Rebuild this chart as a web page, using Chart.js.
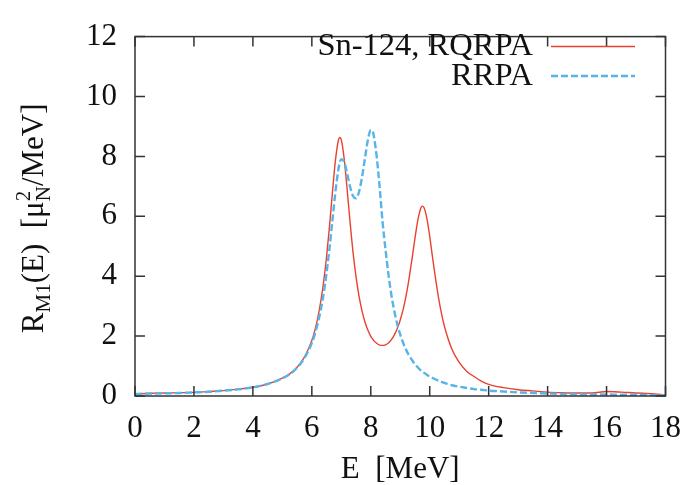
<!DOCTYPE html>
<html><head><meta charset="utf-8">
<script src="https://cdn.jsdelivr.net/npm/chart.js@4.4.1/dist/chart.umd.min.js"></script>
<style>html,body{margin:0;padding:0;background:#fff;} canvas{display:block;}</style>
</head><body>
<canvas id="c" width="695" height="485"></canvas>
<script>
// ---- data ----
const energies = [0,0.5,1,1.5,2,2.5,3,3.5,4,4.5,5,5.25,5.5,5.75,6.0,6.1,6.2,6.3,6.4,6.5,6.6,6.7,6.8,6.9,6.95,7.0,7.1,7.2,7.3,7.4,7.5,7.6,7.7,7.8,7.9,8.0,8.05,8.1,8.2,8.3,8.4,8.5,8.6,8.7,8.8,8.9,9.0,9.1,9.2,9.3,9.4,9.5,9.6,9.7,9.75,9.8,9.9,10.0,10.1,10.2,10.3,10.4,10.5,10.75,11,11.25,11.5,11.75,12,12.5,13,13.5,14,14.5,15,15.5,16,16.5,17,17.5,18];
const rqrpa = [0.07,0.09,0.10,0.11,0.12,0.15,0.18,0.23,0.29,0.40,0.60,0.74,0.96,1.30,1.85,2.18,2.60,3.14,3.81,4.65,5.67,6.81,7.86,8.53,8.63,8.55,7.90,6.88,5.78,4.78,3.98,3.34,2.85,2.48,2.20,1.99,1.92,1.85,1.76,1.70,1.69,1.71,1.77,1.88,2.04,2.25,2.54,2.90,3.36,3.93,4.58,5.27,5.89,6.28,6.34,6.30,5.95,5.33,4.60,3.90,3.28,2.75,2.32,1.57,1.12,0.83,0.65,0.50,0.39,0.28,0.21,0.17,0.13,0.11,0.10,0.10,0.15,0.13,0.10,0.08,0.04];
const rrpa = [0.07,0.08,0.09,0.10,0.12,0.14,0.18,0.22,0.29,0.40,0.59,0.73,0.94,1.27,1.77,2.06,2.42,2.86,3.41,4.11,4.94,5.88,6.81,7.56,7.80,7.91,7.81,7.42,6.98,6.67,6.60,6.81,7.29,7.92,8.54,8.88,8.87,8.70,8.00,6.98,5.81,4.89,4.05,3.37,2.83,2.39,2.05,1.77,1.54,1.35,1.20,1.06,0.95,0.85,0.82,0.78,0.71,0.65,0.60,0.55,0.51,0.47,0.44,0.36,0.31,0.27,0.23,0.21,0.18,0.15,0.12,0.10,0.08,0.07,0.06,0.05,0.05,0.04,0.04,0.03,0.03];
const xTicks = [0,2,4,6,8,10,12,14,16,18];
const yTicks = [0,2,4,6,8,10,12];
const seriesNames = ['Sn-124, RQRPA','RRPA'];
const xTitle = 'E  [MeV]';

const FONT = '"Liberation Serif", "Times New Roman", serif';
const RED = '#e8412f';
const BLUE = '#56b4e9';

const decor = {
  id: 'decor',
  afterDatasetsDraw(chart) {
    const {ctx, chartArea: a, scales: {x, y}} = chart;
    ctx.save();
    // frame
    ctx.strokeStyle = '#333';
    ctx.lineWidth = 1.5;
    ctx.strokeRect(a.left, a.top, a.right - a.left, a.bottom - a.top);
    // inward ticks on all four sides
    const L = 10;
    ctx.beginPath();
    xTicks.forEach(v => {
      const p = x.getPixelForValue(v);
      ctx.moveTo(p, a.bottom); ctx.lineTo(p, a.bottom - L);
      ctx.moveTo(p, a.top); ctx.lineTo(p, a.top + L);
    });
    yTicks.forEach(v => {
      const p = y.getPixelForValue(v);
      ctx.moveTo(a.left, p); ctx.lineTo(a.left + L, p);
      ctx.moveTo(a.right, p); ctx.lineTo(a.right - L, p);
    });
    ctx.stroke();

    // legend
    ctx.fillStyle = '#111';
    ctx.font = '32.5px ' + FONT;
    ctx.textAlign = 'right';
    ctx.textBaseline = 'alphabetic';
    ctx.fillText(seriesNames[0], 533, 55);
    ctx.fillText(seriesNames[1], 533, 85);
    ctx.lineWidth = 1.4; ctx.strokeStyle = RED; ctx.setLineDash([]);
    ctx.beginPath(); ctx.moveTo(551, 46.5); ctx.lineTo(635, 46.5); ctx.stroke();
    ctx.lineWidth = 2.4; ctx.strokeStyle = BLUE; ctx.setLineDash([7, 3]);
    ctx.beginPath(); ctx.moveTo(551, 76); ctx.lineTo(635, 76); ctx.stroke();
    ctx.setLineDash([]);

    // x title
    ctx.font = '31px ' + FONT;
    ctx.textAlign = 'center';
    ctx.fillText(xTitle, (a.left + a.right) / 2, 478);

    // y title with sub/superscripts
    const big = '31px ' + FONT, small = '21px ' + FONT;
    const parts = [
      {t: 'R', f: big, dy: 0},
      {t: 'M1', f: small, dy: 7},
      {t: '(E)  [\u03bc', f: big, dy: 0},
      {t: '2', f: small, dy: -13, stackWith: 'N', dy2: 7},
      {t: '/MeV]', f: big, dy: 0}
    ];
    let total = 0;
    parts.forEach(p => {
      ctx.font = p.f;
      let w = ctx.measureText(p.t).width;
      if (p.stackWith) w = Math.max(w, ctx.measureText(p.stackWith).width);
      p.w = w; total += w;
    });
    ctx.translate(43, (a.top + a.bottom) / 2 + 2);
    ctx.rotate(-Math.PI / 2);
    ctx.textAlign = 'left';
    let cx = -total / 2;
    parts.forEach(p => {
      ctx.font = p.f;
      ctx.fillText(p.t, cx, p.dy);
      if (p.stackWith) ctx.fillText(p.stackWith, cx, p.dy2);
      cx += p.w;
    });
    ctx.restore();
  }
};

new Chart(document.getElementById('c'), {
  type: 'line',
  data: {
    datasets: [
      {
        label: seriesNames[1],
        data: energies.map((e, i) => ({x: e, y: rrpa[i]})),
        borderColor: BLUE, borderWidth: 2.4, borderDash: [7, 3],
        pointRadius: 0, cubicInterpolationMode: 'monotone', fill: false
      },
      {
        label: seriesNames[0],
        data: energies.map((e, i) => ({x: e, y: rqrpa[i]})),
        borderColor: RED, borderWidth: 1.4,
        pointRadius: 0, cubicInterpolationMode: 'monotone', fill: false
      }
    ]
  },
  options: {
    responsive: false, animation: false, devicePixelRatio: 1,
    layout: {padding: {left: 0, top: 21, right: 25, bottom: 0}},
    plugins: {legend: {display: false}, tooltip: {enabled: false}},
    scales: {
      x: {
        type: 'linear', min: 0, max: 18,
        afterBuildTicks: s => { s.ticks = xTicks.map(v => ({value: v})); },
        afterFit: s => { s.height = 89; },
        grid: {display: false, drawTicks: false},
        border: {display: false},
        ticks: {font: {family: FONT, size: 31}, color: '#111', padding: 14, maxRotation: 0, autoSkip: false}
      },
      y: {
        type: 'linear', min: 0, max: 12,
        afterBuildTicks: s => { s.ticks = yTicks.map(v => ({value: v})); },
        afterFit: s => { s.width = 135; },
        grid: {display: false, drawTicks: false},
        border: {display: false},
        ticks: {font: {family: FONT, size: 31}, color: '#111', padding: 18}
      }
    }
  },
  plugins: [decor]
});
</script>
</body></html>
